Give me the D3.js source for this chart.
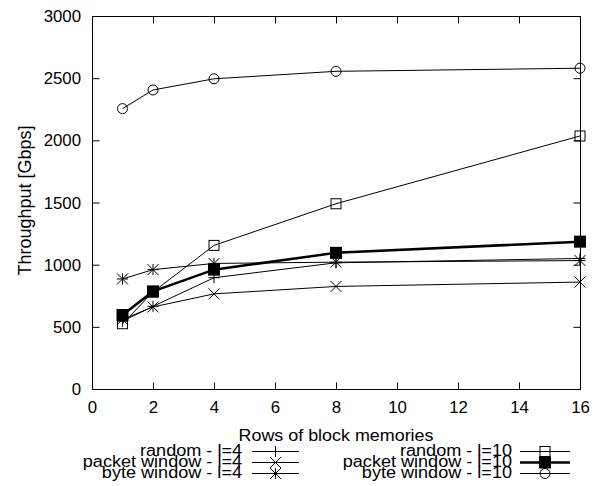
<!DOCTYPE html>
<html>
<head>
<meta charset="utf-8">
<script src="https://cdn.jsdelivr.net/npm/d3@7"></script>
<style>
  html, body { margin: 0; padding: 0; background: #fff; }
  svg { display: block; }
  text { font-family: "Liberation Sans", Arial, Helvetica, sans-serif; fill: #000; }
</style>
</head>
<body>
<svg id="chart" width="603" height="486"></svg>
<script>
// Rows of block memories (x) and throughput in Gbps (y) per configuration
const rows = [1, 2, 4, 8, 16];
const randomL4 = [545, 665, 895, 1015, 1050];
const packetWindowL4 = [560, 660, 765, 825, 860];
const byteWindowL4 = [885, 960, 1010, 1020, 1033];
const randomL10 = [525, 780, 1155, 1490, 2035];
const packetWindowL10 = [595, 785, 960, 1095, 1185];
const byteWindowL10 = [2255, 2405, 2495, 2555, 2580];

const xTicks = [0, 2, 4, 6, 8, 10, 12, 14, 16];
const yTicks = [0, 500, 1000, 1500, 2000, 2500, 3000];

const seriesNames = ["random - l=4", "packet window - l=4", "byte window - l=4",
                     "random - l=10", "packet window - l=10", "byte window - l=10"];
const seriesValues = [randomL4, packetWindowL4, byteWindowL4, randomL10, packetWindowL10, byteWindowL10];
const seriesMarkers = ["plus", "cross", "star", "square", "filledSquare", "circle"];

const svg = d3.select("#chart");
const plot = { left: 92, right: 580, top: 16, bottom: 389 };

const x = d3.scaleLinear().domain([0, 16]).range([plot.left, plot.right]);
const y = d3.scaleLinear().domain([0, 3000]).range([plot.bottom, plot.top]);

const tickLen = 7;
const fontSize = 16;

// horizontally widened text, anchored at (tx, ty)
function label(g, tx, ty, str, anchor, sx) {
  return g.append("text")
    .attr("transform", `translate(${tx},${ty}) scale(${sx},1)`)
    .attr("text-anchor", anchor)
    .style("font-size", fontSize + "px")
    .text(str);
}

// Frame
svg.append("rect")
  .attr("x", plot.left + 0.5).attr("y", plot.top + 0.5)
  .attr("width", plot.right - plot.left).attr("height", plot.bottom - plot.top)
  .attr("fill", "none").attr("stroke", "#000").attr("stroke-width", 1);

// Axes: inward ticks, mirrored on the opposite side
const axisBottom = d3.axisBottom(x).tickValues(xTicks).tickSizeInner(-tickLen).tickSizeOuter(0).tickFormat("");
const axisTop = d3.axisTop(x).tickValues(xTicks).tickSizeInner(-tickLen).tickSizeOuter(0).tickFormat("");
const axisLeft = d3.axisLeft(y).tickValues(yTicks).tickSizeInner(-tickLen).tickSizeOuter(0).tickFormat("");
const axisRight = d3.axisRight(y).tickValues(yTicks).tickSizeInner(-tickLen).tickSizeOuter(0).tickFormat("");

function styleAxis(g) {
  g.select(".domain").remove();
  g.selectAll(".tick line").attr("stroke", "#000").attr("stroke-width", 1);
}
svg.append("g").attr("transform", `translate(0,${plot.bottom + 0.5})`).call(axisBottom).call(styleAxis)
  .selectAll(".tick").filter(d => d === 0 || d === 16).remove();
svg.append("g").attr("transform", `translate(0,${plot.top + 0.5})`).call(axisTop).call(styleAxis)
  .selectAll(".tick").filter(d => d === 0 || d === 16).remove();
svg.append("g").attr("transform", `translate(${plot.left + 0.5},0)`).call(axisLeft).call(styleAxis)
  .selectAll(".tick").filter(d => d === 0 || d === 3000).remove();
svg.append("g").attr("transform", `translate(${plot.right + 0.5},0)`).call(axisRight).call(styleAxis)
  .selectAll(".tick").filter(d => d === 0 || d === 3000).remove();

// Tick labels
const labels = svg.append("g");
xTicks.forEach(t => label(labels, x(t) + 0.5, plot.bottom + 24, String(t), "middle", 1.05));
yTicks.forEach(t => label(labels, plot.left - 11, y(t) + 6, String(t), "end", 1.05));

// Axis titles
label(labels, (plot.left + plot.right) / 2, 441, "Rows of block memories", "middle", 1.12);
labels.append("text")
  .attr("transform", `translate(31,${(plot.top + plot.bottom) / 2 - 2}) rotate(-90)`)
  .attr("text-anchor", "middle")
  .style("font-size", "18px")
  .text("Throughput [Gbps]");

// Marker shapes
function markerPath(type, s) {
  switch (type) {
    case "plus": return `M${-s},0H${s}M0,${-s}V${s}`;
    case "cross": return `M${-s},${-s}L${s},${s}M${-s},${s}L${s},${-s}`;
    case "star": return `M${-s},0H${s}M0,${-s}V${s}M${-s},${-s}L${s},${s}M${-s},${s}L${s},${-s}`;
    default: return "";
  }
}
function drawMarker(g, type, cx, cy) {
  if (type === "square") {
    g.append("rect").attr("x", cx - 5).attr("y", cy - 5).attr("width", 10).attr("height", 10)
      .attr("fill", "none").attr("stroke", "#000").attr("stroke-width", 1);
  } else if (type === "filledSquare") {
    g.append("rect").attr("x", cx - 6).attr("y", cy - 6).attr("width", 12).attr("height", 12)
      .attr("fill", "#000").attr("stroke", "none");
  } else if (type === "circle") {
    g.append("circle").attr("cx", cx).attr("cy", cy).attr("r", 5)
      .attr("fill", "none").attr("stroke", "#000").attr("stroke-width", 1);
  } else {
    g.append("path").attr("transform", `translate(${cx},${cy})`)
      .attr("d", markerPath(type, 5.5))
      .attr("fill", "none").attr("stroke", "#000").attr("stroke-width", 1);
  }
}

// Series lines and points
const line = d3.line().x(d => x(d[0])).y(d => y(d[1]));
const marks = svg.append("g");
seriesValues.forEach((vals, i) => {
  const pts = rows.map((r, j) => [r, vals[j]]);
  const lw = seriesMarkers[i] === "filledSquare" ? 2.5 : 1;
  marks.append("path").attr("d", line(pts))
    .attr("fill", "none").attr("stroke", "#000").attr("stroke-width", lw);
  pts.forEach(p => drawMarker(marks, seriesMarkers[i], x(p[0]), y(p[1])));
});

// Legend: two columns of three entries
const legend = svg.append("g");
const legendRowsY = [451, 462, 473];
seriesNames.forEach((name, i) => {
  const col = Math.floor(i / 3);
  const row = i % 3;
  const ly = legendRowsY[row];
  const textEnd = col === 0 ? 242 : 512;
  const x0 = col === 0 ? 252 : 520;
  const x1 = col === 0 ? 299 : 570;
  label(legend, textEnd, ly + 5, name, "end", 1.13);
  const lw = seriesMarkers[i] === "filledSquare" ? 2.5 : 1;
  legend.append("line").attr("x1", x0).attr("x2", x1).attr("y1", ly + 0.5).attr("y2", ly + 0.5)
    .attr("stroke", "#000").attr("stroke-width", lw);
  drawMarker(legend, seriesMarkers[i], (x0 + x1) / 2, ly + 0.5);
});
</script>
</body>
</html>
